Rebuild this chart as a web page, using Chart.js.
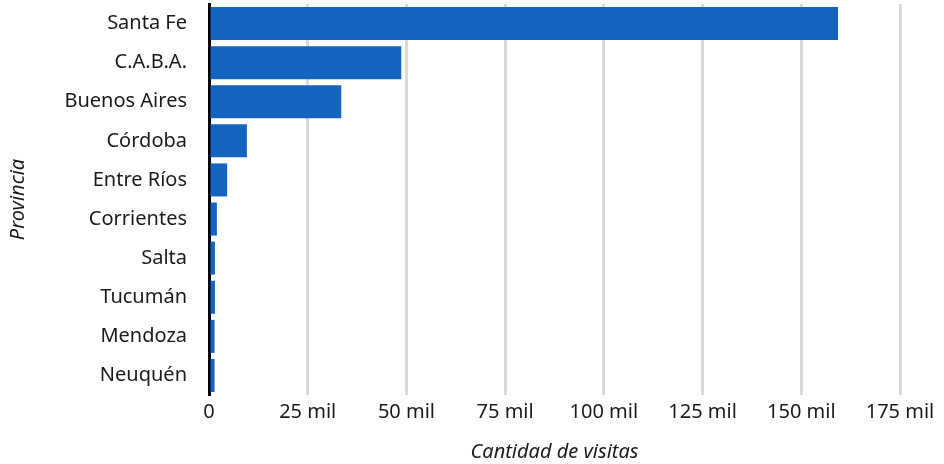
<!DOCTYPE html>
<html>
<head>
<meta charset="utf-8">
<script src="https://cdn.jsdelivr.net/npm/chart.js@4/dist/chart.umd.min.js"></script>
<style>
html,body{margin:0;padding:0;background:#fff;}
#wrap{width:944px;height:464px;position:relative;}
</style>
</head>
<body>
<div id="wrap"><canvas id="c" width="944" height="464"></canvas></div>
<script>
const provincias = ["Santa Fe","C.A.B.A.","Buenos Aires","Córdoba","Entre Ríos","Corrientes","Salta","Tucumán","Mendoza","Neuquén"];
const visitas = [159300, 48700, 33500, 9600, 4600, 2000, 1500, 1500, 1400, 1400];
const xTickStep = 25000;
const xMax = 175000;
const xTitle = "Cantidad de visitas";
const yTitle = "Provincia";

const FONT = "'Noto Sans', 'Open Sans', sans-serif";
const TEXT = "#1a1a1a";

new Chart(document.getElementById('c'), {
  type: 'bar',
  data: {
    labels: provincias,
    datasets: [{
      data: visitas,
      backgroundColor: '#1565C0',
      borderWidth: 0,
      barPercentage: 0.845,
      categoryPercentage: 1.0
    }]
  },
  options: {
    indexAxis: 'y',
    responsive: false,
    animation: false,
    devicePixelRatio: 1,
    layout: { padding: { top: 4, right: 44, left: 0, bottom: 0 } },
    plugins: { legend: { display: false }, tooltip: { enabled: false } },
    scales: {
      x: {
        min: 0, max: xMax,
        ticks: {
          stepSize: xTickStep,
          color: TEXT,
          font: { family: FONT, size: 20 },
          padding: 5,
          maxRotation: 0,
          callback: v => v === 0 ? '0' : (v / 1000) + ' mil'
        },
        grid: { color: '#d9d9d9', lineWidth: 3, drawTicks: false },
        border: { display: false },
        title: { display: true, text: xTitle, color: TEXT, font: { family: FONT, size: 20, style: 'italic' }, padding: { top: 3, bottom: 0 } },
        afterFit: s => { s.height = 69; s.paddingLeft = 0; s.paddingRight = 0; }
      },
      y: {
        ticks: { color: TEXT, font: { family: FONT, size: 20 }, padding: 22 },
        grid: { display: false, drawTicks: false },
        border: { display: true, color: '#000000', width: 3 },
        title: { display: true, text: yTitle, color: TEXT, font: { family: FONT, size: 20, style: 'italic' }, padding: { top: 6, bottom: 0 } },
        afterFit: s => { s.width = 209; s.paddingTop = 0; s.paddingBottom = 0; }
      }
    }
  }
});
</script>
</body>
</html>
